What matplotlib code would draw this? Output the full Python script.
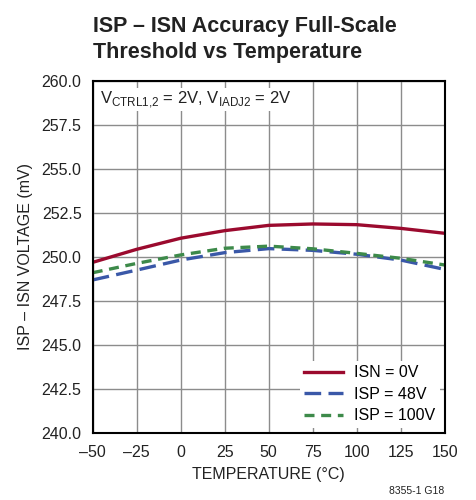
import numpy as np
import matplotlib
matplotlib.use("Agg")
import matplotlib.pyplot as plt

plt.rcParams['font.family'] = ['Liberation Sans Narrow', 'Liberation Sans', 'DejaVu Sans']

# данные
temp = [-50, -25, 0, 25, 50, 75, 100, 125, 150]
isn_0v = [249.68, 250.42, 251.05, 251.48, 251.78, 251.86, 251.82, 251.61, 251.33]
isp_48v = [248.68, 249.24, 249.81, 250.23, 250.46, 250.36, 250.14, 249.81, 249.28]
isp_100v = [249.09, 249.62, 250.10, 250.48, 250.60, 250.45, 250.19, 249.91, 249.53]
xticks = [-50, -25, 0, 25, 50, 75, 100, 125, 150]
yticks = [240.0, 242.5, 245.0, 247.5, 250.0, 252.5, 255.0, 257.5, 260.0]

fig = plt.figure(figsize=(4.76, 5.0), dpi=100)
ax = fig.add_axes([0.1948, 0.1346, 0.7394, 0.704])

ax.plot(temp, isn_0v, color='#9b0a2e', lw=2.4, label='ISN = 0V')
ax.plot(temp, isp_48v, color='#3a58a8', lw=2.4, dashes=(5, 2.2), label='ISP = 48V')
ax.plot(temp, isp_100v, color='#3d8a4a', lw=2.4, dashes=(3, 2), label='ISP = 100V')

ax.set_xlim(-50, 150)
ax.set_ylim(240, 260)
ax.set_xticks(xticks)
ax.set_xticklabels([str(t).replace('-', '\u2013') for t in xticks])
ax.set_yticks(yticks)
ax.set_yticklabels(['%.1f' % v for v in yticks])
ax.tick_params(length=0, labelsize=11.5, colors='#222222')
ax.tick_params(axis='x', pad=9)
ax.tick_params(axis='y', pad=8)
ax.grid(True, color='#8c8c8c', lw=1)
for s in ax.spines.values():
    s.set_linewidth(1.5)

ax.set_xlabel('TEMPERATURE (°C)', fontsize=11.5, color='#222222', labelpad=5)
ax.set_ylabel('ISP \u2013 ISN VOLTAGE (mV)', fontsize=11.5, color='#222222', labelpad=6)

ax.text(-46, 259.5, r'V$_{\mathregular{CTRL1{,}2}}$ = 2V, V$_{\mathregular{IADJ2}}$ = 2V',
        fontsize=12, va='top', ha='left', color='#222222',
        bbox=dict(facecolor='white', edgecolor='none', pad=1))

leg = ax.legend(loc='lower right', fontsize=11.5, frameon=True, framealpha=1,
                edgecolor='none', handlelength=2.4, borderaxespad=0.3,
                labelspacing=0.4, handletextpad=0.7, borderpad=0.3)
leg.get_frame().set_boxstyle('square', pad=0)

fig.text(0.195, 0.968, 'ISP \u2013 ISN Accuracy Full-Scale\nThreshold vs Temperature',
         fontsize=15.5, fontweight='bold', va='top', ha='left', linespacing=1.3,
         color='#222222')
fig.text(0.934, 0.008, '8355-1 G18', fontsize=7.5, ha='right', va='bottom', color='#222222')

plt.savefig("out.png")
